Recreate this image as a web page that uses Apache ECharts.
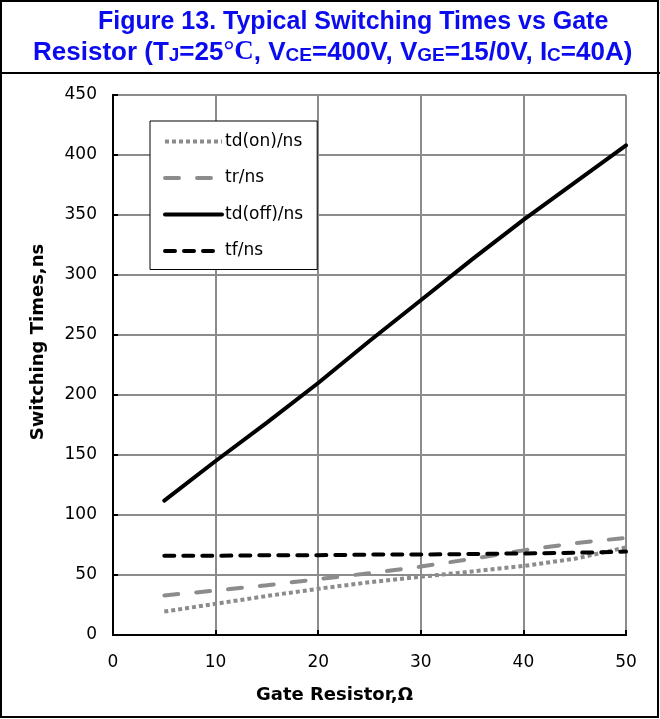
<!DOCTYPE html>
<html>
<head>
<meta charset="utf-8">
<script src="https://cdn.jsdelivr.net/npm/echarts@6/dist/echarts.min.js"></script>
<style>
  html, body { margin: 0; padding: 0; background: #fff; }
  #main { width: 660px; height: 719px; }
</style>
</head>
<body>
<div id="main"></div>
<script>
// gate resistor (ohm) sample points
const resistor = [5, 10, 15, 20, 25, 30, 35, 40, 45, 50];
const tdOn = [19.5, 26, 32.5, 38.5, 44, 48.5, 53, 57.5, 63.5, 73];
const tr = [33, 37, 41.5, 46.5, 51.5, 57, 63.5, 70.5, 76.5, 81];
const tdOff = [112, 145, 177, 210, 245, 279, 313, 346, 377, 408];
const tf = [66, 66, 66.5, 66.5, 67, 67, 67.5, 68, 68.5, 69.5];
const xTicks = [0, 10, 20, 30, 40, 50];
const yTicks = [0, 50, 100, 150, 200, 250, 300, 350, 400, 450];

const titleFont = "'Liberation Sans', Arial, sans-serif";
const font = "'DejaVu Sans', sans-serif";
const blue = "#0b0bf0";
const gray = "#8c8c8c";

function pairs(ys) {
  return resistor.map((x, i) => [x, ys[i]]);
}

const seriesDefs = [
  { name: "td(on)/ns", data: tdOn, color: gray, type: [4, 3], cap: "butt" },
  { name: "tr/ns", data: tr, color: gray, type: [14, 18], cap: "round" },
  { name: "td(off)/ns", data: tdOff, color: "#000", type: "solid", cap: "round" },
  { name: "tf/ns", data: tf, color: "#000", type: [10, 9], cap: "round" }
];

const series = seriesDefs.map(s => ({
  name: s.name,
  type: "line",
  data: pairs(s.data),
  symbol: "none",
  color: s.color,
  lineStyle: { color: s.color, width: 4, type: s.type, cap: s.cap }
}));

const titleRich = {
  t: { fontFamily: titleFont, fontWeight: "bold", fontSize: 26, color: blue, lineHeight: 30, verticalAlign: "bottom" },
  s: { fontFamily: titleFont, fontWeight: "bold", fontSize: 19, color: blue, lineHeight: 30, verticalAlign: "bottom", padding: [0, 0, 1, 0] },
  c: { fontFamily: "'Liberation Serif', serif", fontSize: 27, color: blue, lineHeight: 30, verticalAlign: "bottom" }
};

const options = {
  animation: false,
  backgroundColor: "#fff",
  title: [
    {
      left: 98,
      top: 7,
      padding: 0,
      text: "Figure 13. Typical Switching Times vs Gate",
      textStyle: { fontFamily: titleFont, fontWeight: "bold", fontSize: 25, color: blue, lineHeight: 30 }
    },
    {
      left: 33,
      top: 36,
      padding: 0,
      text: "{t|Resistor (T}{s|J}{t|=25}{c|°C}{t|, V}{s|CE}{t|=400V, V}{s|GE}{t|=15/0V, I}{s|C}{t|=40A)}",
      textStyle: { rich: titleRich }
    }
  ],
  graphic: [
    { type: "rect", shape: { x: 1, y: 1, width: 657, height: 716 }, style: { fill: null, stroke: "#000", lineWidth: 2 }, z: 100 },
    { type: "line", shape: { x1: 0, y1: 73, x2: 660, y2: 73 }, style: { stroke: "#000", lineWidth: 2 }, z: 100 }
  ],
  legend: {
    orient: "vertical",
    left: 150,
    top: 121,
    padding: [12, 14, 10, 13],
    itemWidth: 57,
    itemHeight: 14,
    itemGap: 19.5,
    backgroundColor: "#fff",
    borderColor: "#000",
    borderWidth: 1,
    borderRadius: 0,
    itemStyle: { opacity: 0 },
    lineStyle: { width: 4 },
    textStyle: { fontFamily: font, fontSize: 17, color: "#000", padding: [0, 0, 0, -2] }
  },
  grid: { left: 113, right: 34, top: 95, bottom: 84 },
  xAxis: [
    {
      type: "value",
      min: xTicks[0],
      max: xTicks[xTicks.length - 1],
      interval: 10,
      name: "Gate Resistor,Ω",
      nameLocation: "middle",
      nameGap: 51,
      nameTextStyle: { fontFamily: font, fontSize: 18, fontWeight: "bold", color: "#000", padding: [0, 70, 0, 0] },
      axisLine: { lineStyle: { color: "#000", width: 2 } },
      axisTick: { inside: true, length: 5, lineStyle: { color: "#000", width: 2 } },
      axisLabel: { fontFamily: font, fontSize: 17, color: "#000", margin: 19 },
      splitLine: { show: true, lineStyle: { color: gray, width: 2 } }
    },
    {
      type: "value", position: "top", min: 0, max: 50, interval: 10,
      axisLine: { show: true, lineStyle: { color: "#000", width: 2 } },
      axisTick: { show: false }, axisLabel: { show: false }, splitLine: { show: false }
    }
  ],
  yAxis: [
    {
      type: "value",
      min: yTicks[0],
      max: yTicks[yTicks.length - 1],
      interval: 50,
      name: "Switching Times,ns",
      nameLocation: "middle",
      nameGap: 66,
      nameTextStyle: { fontFamily: font, fontSize: 18, fontWeight: "bold", color: "#000", padding: [0, 0, 0, 46] },
      axisLine: { show: true, lineStyle: { color: "#000", width: 2 } },
      axisTick: { show: true, inside: true, length: 5, lineStyle: { color: "#000", width: 2 } },
      axisLabel: { fontFamily: font, fontSize: 17, color: "#000", margin: 16 },
      splitLine: { show: true, lineStyle: { color: gray, width: 2 } }
    },
    {
      type: "value", position: "right", min: 0, max: 450, interval: 50,
      axisLine: { show: true, lineStyle: { color: "#000", width: 2 } },
      axisTick: { show: false }, axisLabel: { show: false }, splitLine: { show: false }
    }
  ],
  series
};

const chart = echarts.init(document.getElementById("main"));
chart.setOption(options);
window.onresize = function() {
  chart.resize();
};
</script>
</body>
</html>
